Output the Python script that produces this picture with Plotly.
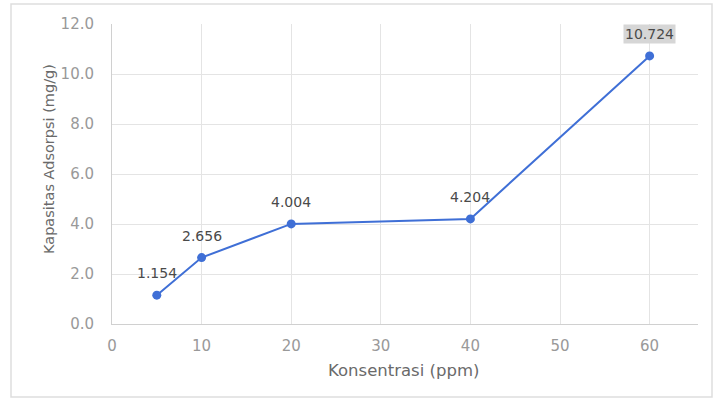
import plotly.graph_objects as go

# Adsorption capacity vs. concentration
konsentrasi = [5, 10, 20, 40, 60]
kapasitas = [1.154, 2.656, 4.004, 4.204, 10.724]
label_teks = ["1.154", "2.656", "4.004", "4.204", "10.724"]
x_ticks = [0, 10, 20, 30, 40, 50, 60]
y_ticks = [0, 2, 4, 6, 8, 10, 12]
y_tick_text = ["0.0", "2.0", "4.0", "6.0", "8.0", "10.0", "12.0"]
x_title = "Konsentrasi (ppm)"
y_title = "Kapasitas Adsorpsi (mg/g)"

W, H = 714, 400
ML, MR, MT, MB = 112, 16, 24, 76
FONT = "DejaVu Sans, Verdana, sans-serif"


def px_x(p):
    return (p - ML) / (W - ML - MR)


def px_y(p):
    return 1 - (p - MT) / (H - MT - MB)


fig = go.Figure()
fig.add_trace(go.Scatter(
    x=konsentrasi, y=kapasitas, mode="lines+markers",
    line=dict(color="#3f6fd6", width=2),
    marker=dict(color="#3f6fd6", size=9),
    hoverinfo="x+y", showlegend=False,
))

# value labels above each point; the last one sits in a grey box
for i, (xv, yv, t) in enumerate(zip(konsentrasi, kapasitas, label_teks)):
    last = i == len(konsentrasi) - 1
    fig.add_annotation(
        x=xv, y=yv, text=t, showarrow=False, yshift=22,
        font=dict(family=FONT, size=14, color="#4a4a4a"),
        bgcolor="#d6d6d6" if last else "rgba(0,0,0,0)",
        borderpad=1,
    )

# axis titles
fig.add_annotation(
    xref="paper", yref="paper", x=px_x(403), y=px_y(370), text=x_title,
    showarrow=False, xanchor="center", yanchor="middle",
    font=dict(family=FONT, size=16.5, color="#6a6a6a"),
)
fig.add_annotation(
    xref="paper", yref="paper", x=px_x(49), y=px_y(159), text=y_title,
    showarrow=False, xanchor="center", yanchor="middle", textangle=-90,
    font=dict(family=FONT, size=14.5, color="#6a6a6a"),
)

# outer frame around the chart
fig.add_shape(type="rect", xref="paper", yref="paper",
              x0=px_x(11), x1=px_x(712), y0=px_y(397), y1=px_y(4),
              line=dict(color="#dedede", width=1.5), layer="below")

fig.update_layout(
    width=W, height=H,
    margin=dict(l=ML, r=MR, t=MT, b=MB),
    paper_bgcolor="white", plot_bgcolor="white",
    font=dict(family=FONT, size=14, color="#999999"),
    xaxis=dict(
        range=[0, 65.4], tickvals=x_ticks, showgrid=True, gridcolor="#e4e4e4",
        gridwidth=1, zeroline=False, showline=True, linecolor="#d0d0d0",
        ticks="", tickfont=dict(family=FONT, size=15, color="#999999"),
        ticklabelstandoff=8,
    ),
    yaxis=dict(
        range=[0, 12], tickvals=y_ticks, ticktext=y_tick_text, showgrid=True,
        gridcolor="#e4e4e4", gridwidth=1, zeroline=False, showline=True,
        linecolor="#d0d0d0", ticks="", tickfont=dict(family=FONT, size=15, color="#999999"),
        ticklabelstandoff=14,
    ),
)

fig.write_html("out.html")
